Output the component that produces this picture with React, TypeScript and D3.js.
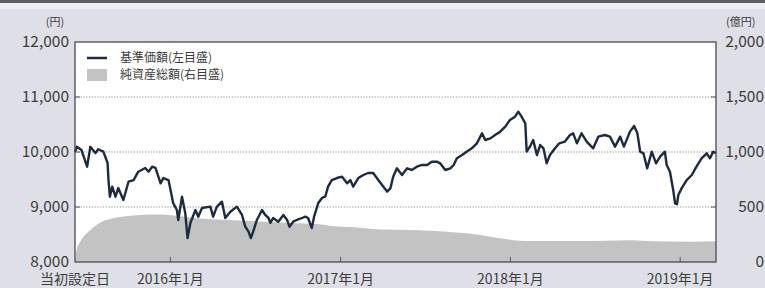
import * as d3 from 'd3';
import React from 'react';

// 基準価額 (円) - left axis
const navDates = [
  '2015-06-10', '2015-06-14', '2015-06-24', '2015-07-06', '2015-07-13', '2015-07-24', '2015-07-30',
  '2015-08-10', '2015-08-19', '2015-08-21', '2015-08-24', '2015-08-29', '2015-09-05', '2015-09-11',
  '2015-09-22', '2015-10-03', '2015-10-14', '2015-10-24', '2015-11-08', '2015-11-15', '2015-11-23',
  '2015-11-30', '2015-12-11', '2015-12-17', '2015-12-28', '2016-01-07', '2016-01-15', '2016-01-18',
  '2016-01-26', '2016-02-02', '2016-02-07', '2016-02-13', '2016-02-24', '2016-03-01', '2016-03-09',
  '2016-03-27', '2016-04-02', '2016-04-10', '2016-04-21', '2016-04-28', '2016-05-09', '2016-05-23',
  '2016-06-03', '2016-06-10', '2016-06-17', '2016-06-22', '2016-06-27', '2016-07-05', '2016-07-16',
  '2016-07-23', '2016-07-30', '2016-08-03', '2016-08-09', '2016-08-20', '2016-08-31', '2016-09-08',
  '2016-09-13', '2016-09-21', '2016-09-29', '2016-10-10', '2016-10-17', '2016-10-23', '2016-10-31',
  '2016-11-05', '2016-11-14', '2016-11-22', '2016-11-29', '2016-12-05', '2016-12-13', '2016-12-24',
  '2017-01-04', '2017-01-15', '2017-01-22', '2017-01-28', '2017-02-08', '2017-02-19', '2017-03-01',
  '2017-03-12', '2017-03-23', '2017-04-03', '2017-04-11', '2017-04-18', '2017-04-24', '2017-05-02',
  '2017-05-13', '2017-05-24', '2017-06-03', '2017-06-14', '2017-06-25', '2017-07-06', '2017-07-16',
  '2017-07-27', '2017-08-03', '2017-08-14', '2017-08-25', '2017-09-01', '2017-09-08', '2017-09-19',
  '2017-09-29', '2017-10-10', '2017-10-21', '2017-11-01', '2017-11-08', '2017-11-19', '2017-11-29',
  '2017-12-10', '2017-12-21', '2017-12-31', '2018-01-11', '2018-01-18', '2018-01-25', '2018-02-02',
  '2018-02-05', '2018-02-12', '2018-02-19', '2018-02-27', '2018-03-06', '2018-03-13', '2018-03-20',
  '2018-03-27', '2018-04-07', '2018-04-16', '2018-04-28', '2018-05-09', '2018-05-16', '2018-05-24',
  '2018-06-03', '2018-06-14', '2018-06-28', '2018-07-09', '2018-07-23', '2018-08-03', '2018-08-14',
  '2018-08-25', '2018-09-02', '2018-09-15', '2018-09-24', '2018-10-01', '2018-10-07', '2018-10-14',
  '2018-10-22', '2018-11-01', '2018-11-10', '2018-11-19', '2018-11-29', '2018-12-03', '2018-12-10',
  '2018-12-17', '2018-12-21', '2018-12-25', '2018-12-28', '2019-01-04', '2019-01-15', '2019-01-26',
  '2019-02-05', '2019-02-16', '2019-02-27', '2019-03-06', '2019-03-13', '2019-03-19',
];
const navValues = [
  10000, 10096, 10036, 9733, 10096, 9980, 10050,
  10006, 9800, 9490, 9187, 9370, 9187, 9345,
  9127, 9460, 9490, 9642, 9710, 9642, 9733,
  9710, 9430, 9527, 9490, 9073, 8945, 8764,
  9187, 8890, 8436, 8710, 8945, 8824, 8982,
  9006, 8824, 9006, 9097, 8800, 8915, 9006,
  8855, 8642, 8551, 8436, 8551, 8764, 8945,
  8855, 8800, 8710, 8800, 8733, 8855, 8764,
  8642, 8733, 8764, 8800, 8824, 8800, 8618,
  8824, 9073, 9164, 9187, 9370, 9490, 9527,
  9551, 9430, 9490, 9370, 9527, 9582, 9618,
  9618, 9490, 9370, 9279, 9339, 9551, 9703,
  9582, 9703, 9673, 9733, 9764, 9764, 9824,
  9824, 9794, 9673, 9703, 9764, 9885, 9945,
  10006, 10067, 10158, 10339, 10218, 10248, 10309,
  10370, 10461, 10582, 10642, 10733, 10642, 10521,
  10006, 10097, 10218, 9945, 10127, 10067, 9794,
  9945, 10067, 10158, 10188, 10309, 10339, 10158,
  10339, 10188, 10067, 10279, 10309, 10279, 10097,
  10279, 10097, 10370, 10473, 10339, 10006, 9976,
  9703, 10006, 9794, 9915, 10006, 9764, 9642,
  9309, 9067, 9050, 9218, 9339, 9490, 9582,
  9733, 9885, 9976, 9885, 10006, 9976,
];

// 純資産総額 (億円) - right axis
const aumDates = [
  '2015-06-10', '2015-06-14', '2015-06-20', '2015-07-13', '2015-08-04', '2015-08-25', '2015-09-27',
  '2015-10-29', '2015-12-11', '2016-01-16', '2016-03-05', '2016-05-15', '2016-07-12', '2016-09-15',
  '2016-11-11', '2016-12-16', '2017-01-22', '2017-03-27', '2017-06-06', '2017-08-19', '2017-10-29',
  '2017-12-10', '2018-01-29', '2018-06-01', '2018-09-15', '2018-11-24', '2019-01-23', '2019-03-19',
];
const aumValues = [
  0, 120, 175, 290, 360, 390, 415,
  428, 432, 420, 395, 380, 368, 355,
  345, 325, 318, 295, 290, 275, 245,
  215, 192, 190, 198, 186, 185, 188,
];

const leftTicks = [8000, 9000, 10000, 11000, 12000];
const rightTicks = [0, 500, 1000, 1500, 2000];
const xTickDates = ['2016-01-01', '2017-01-01', '2018-01-01', '2019-01-01'];
const xTickLabels = ['2016年1月', '2017年1月', '2018年1月', '2019年1月'];
const legendLabels = ['基準価額(左目盛)', '純資産総額(右目盛)'];

const W = 765, H = 288;
const plot = { left: 75, right: 716, top: 42, bottom: 262 };
const font = '"Noto Sans CJK JP", "Noto Sans", sans-serif';
const textColor = '#3c3c3c';
const lineColor = '#1d2b3f';
const areaColor = '#c3c3c3';

const parse = d3.timeParse('%Y-%m-%d');

export default function App() {
  const nav = navDates.map((d, i) => ({ date: parse(d) as Date, value: navValues[i] }));
  const aum = aumDates.map((d, i) => ({ date: parse(d) as Date, value: aumValues[i] }));

  const x = d3.scaleTime()
    .domain([parse('2015-06-10') as Date, parse('2019-03-19') as Date])
    .range([plot.left, plot.right]);
  const yL = d3.scaleLinear().domain([8000, 12000]).range([plot.bottom, plot.top]);
  const yR = d3.scaleLinear().domain([0, 2000]).range([plot.bottom, plot.top]);

  const line = d3.line<{ date: Date; value: number }>()
    .x(d => x(d.date))
    .y(d => yL(d.value));
  const area = d3.area<{ date: Date; value: number }>()
    .x(d => x(d.date))
    .y0(plot.bottom)
    .y1(d => yR(d.value))
    .curve(d3.curveMonotoneX);

  const fmt = d3.format(',');

  return (
    <svg width={W} height={H} style={{ position: 'fixed', left: 0, top: 0 }} fontFamily={font}>
      <rect x={0} y={0} width={W} height={H} fill="#dfe0e7" />
      <rect x={0} y={0} width={W} height={3} fill="#5c5e60" />
      <rect x={0} y={3} width={W} height={6} fill="#eceef2" />

      <rect x={plot.left} y={plot.top} width={plot.right - plot.left} height={plot.bottom - plot.top} fill="#fff" />

      <path d={area(aum) || ''} fill={areaColor} />

      {leftTicks.slice(1, -1).map(t => (
        <g key={t}>
          <line x1={plot.left} x2={plot.right} y1={yL(t)} y2={yL(t)}
            stroke="#8a8a8a" strokeWidth={1.2} strokeDasharray="1.2,1.6" />
          <line x1={plot.left} x2={plot.left + 5} y1={yL(t)} y2={yL(t)} stroke="#555" />
          <line x1={plot.right - 5} x2={plot.right} y1={yL(t)} y2={yL(t)} stroke="#555" />
        </g>
      ))}

      {xTickDates.map(d => (
        <line key={d} x1={x(parse(d) as Date)} x2={x(parse(d) as Date)} y1={plot.bottom} y2={plot.bottom - 5} stroke="#555" />
      ))}

      <path d={line(nav) || ''} fill="none" stroke={lineColor} strokeWidth={2.4} strokeLinejoin="round" />

      <rect x={plot.left} y={plot.top} width={plot.right - plot.left} height={plot.bottom - plot.top}
        fill="none" stroke="#4a4a4a" strokeWidth={1.3} />

      {/* legend */}
      <line x1={87} x2={107} y1={58} y2={58} stroke={lineColor} strokeWidth={2.5} />
      <rect x={87} y={69} width={20} height={12} fill={areaColor} />
      {legendLabels.map((l, i) => (
        <text key={l} x={120} y={58 + i * 17} dy="0.35em" fontSize={12} fill={textColor}>{l}</text>
      ))}

      {/* left axis */}
      <text x={55} y={22} dy="0.35em" textAnchor="middle" fontSize={11} fill={textColor}>(円)</text>
      {leftTicks.map(t => (
        <text key={t} x={69} y={yL(t)} dy="0.3em" textAnchor="end" fontSize={15.5} fill={textColor}>{fmt(t)}</text>
      ))}

      {/* right axis */}
      <text x={726} y={22} dy="0.35em" fontSize={11} fill={textColor}>(億円)</text>
      {rightTicks.map(t => (
        <text key={t} x={764} y={yR(t)} dy="0.3em" textAnchor="end" fontSize={15.5} fill={textColor}>{fmt(t)}</text>
      ))}

      {/* x axis */}
      <text x={75} y={279} dy="0.35em" textAnchor="middle" fontSize={14} fill={textColor}>当初設定日</text>
      {xTickDates.map((d, i) => (
        <text key={d} x={x(parse(d) as Date)} y={279} dy="0.35em" textAnchor="middle" fontSize={14} fill={textColor}>{xTickLabels[i]}</text>
      ))}
    </svg>
  );
}
